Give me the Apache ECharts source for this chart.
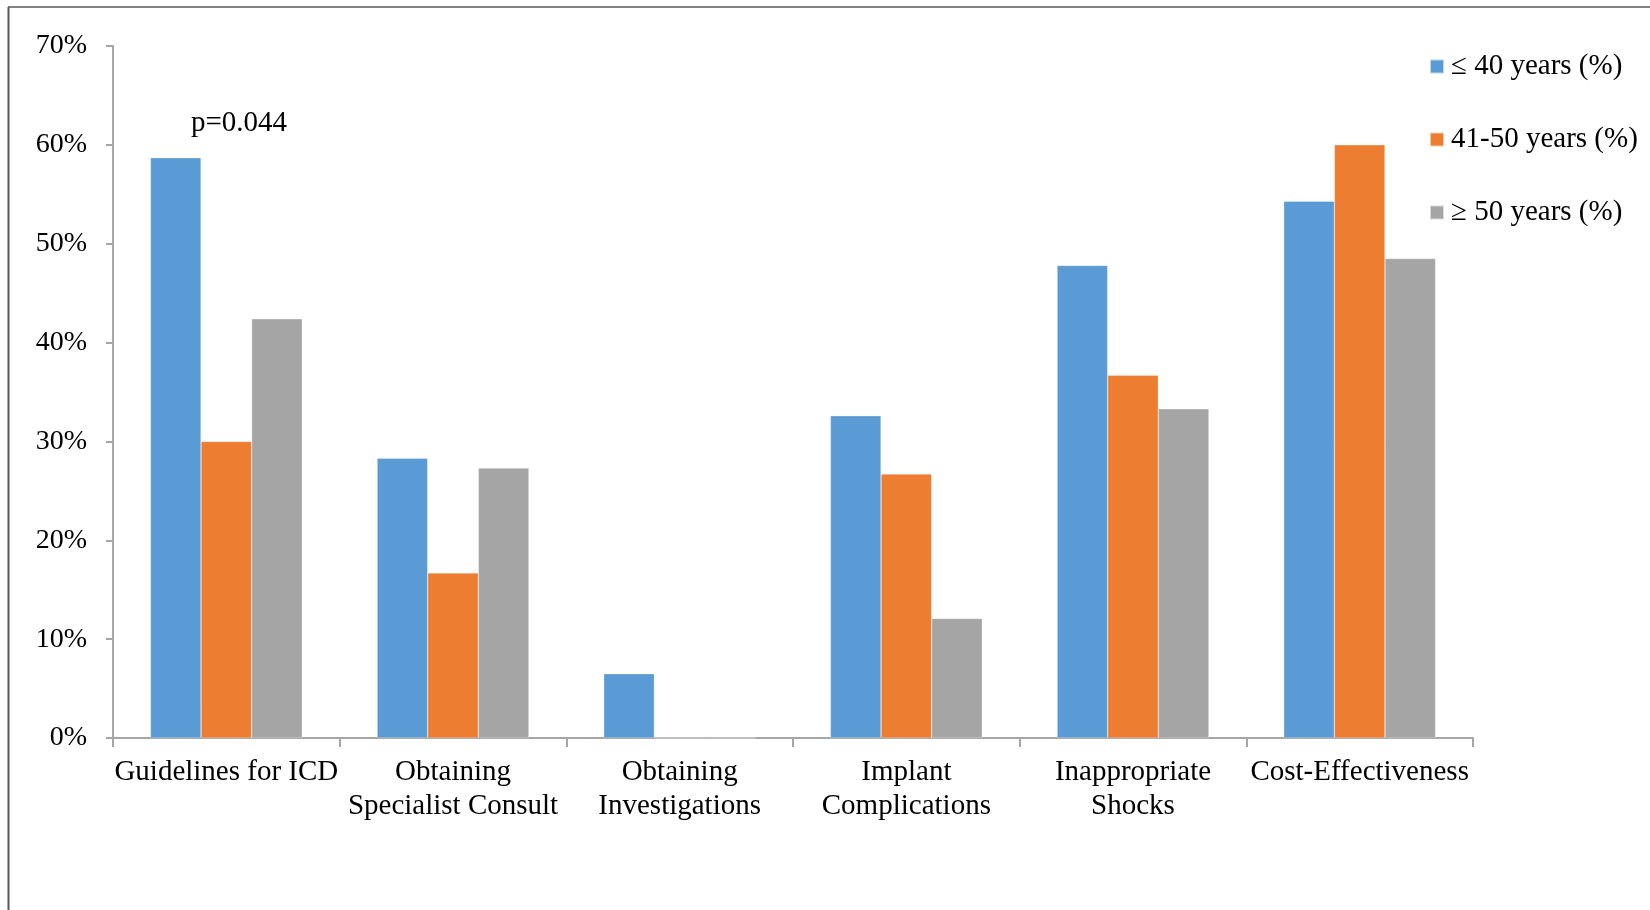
<!DOCTYPE html>
<html>
<head>
<meta charset="utf-8">
<title>ICD survey responses by age group</title>
<script src="https://cdn.jsdelivr.net/npm/echarts@6/dist/echarts.min.js"></script>
<style>
  html, body { margin: 0; padding: 0; background: #fff; }
  #chart { width: 1650px; height: 910px; }
</style>
</head>
<body>
<div id="chart"></div>
<script>
// Survey topics (x-axis categories)
const categories = [
  'Guidelines for ICD',
  'Obtaining\nSpecialist Consult',
  'Obtaining\nInvestigations',
  'Implant\nComplications',
  'Inappropriate\nShocks',
  'Cost-Effectiveness'
];

// Percentage of respondents per age group
const age40OrLess = [58.7, 28.3, 6.5, 32.6, 47.8, 54.3];
const age41to50   = [30.0, 16.7, 0.0, 26.7, 36.7, 60.0];
const age50OrMore = [42.4, 27.3, 0.0, 12.1, 33.3, 48.5];

const seriesNames = ['\u2264 40 years (%)', '41-50 years (%)', '\u2265 50 years (%)'];
const seriesColors = ['#5B9BD5', '#ED7D31', '#A5A5A5'];

// Y-axis ticks: 0% .. 70% in steps of 10
const yMin = 0, yMax = 70, yStep = 10;

const annotationText = 'p=0.044';

const FONT = '"Liberation Serif", "Times New Roman", serif';
const TEXT_COLOR = '#000';
const AXIS_COLOR = '#a6a6a6';

const chart = echarts.init(document.getElementById('chart'), null, { renderer: 'canvas' });

const dataSets = [age40OrLess, age41to50, age50OrMore];

const option = {
  backgroundColor: '#ffffff',
  animation: false,
  textStyle: { fontFamily: FONT, color: TEXT_COLOR },
  grid: { left: 113, right: 177, top: 46, bottom: 172, containLabel: false },
  legend: {
    orient: 'vertical',
    left: 1424,
    top: 47,
    itemWidth: 14,
    itemHeight: 14,
    itemGap: 44,
    icon: 'rect',
    textStyle: { fontFamily: FONT, fontSize: 29, color: TEXT_COLOR, padding: [0, 0, 0, 2] },
    data: seriesNames
  },
  xAxis: {
    type: 'category',
    data: categories,
    axisLine: { lineStyle: { color: AXIS_COLOR, width: 2 } },
    axisTick: { show: true, length: 9, lineStyle: { color: AXIS_COLOR, width: 2 } },
    axisLabel: {
      interval: 0,
      margin: 17,
      fontFamily: FONT,
      fontSize: 29,
      lineHeight: 34,
      color: TEXT_COLOR
    }
  },
  yAxis: {
    type: 'value',
    min: yMin,
    max: yMax,
    interval: yStep,
    splitLine: { show: false },
    axisLine: { show: true, lineStyle: { color: AXIS_COLOR, width: 2 } },
    axisTick: { show: true, length: 7, lineStyle: { color: AXIS_COLOR, width: 2 } },
    axisLabel: {
      formatter: '{value}%',
      margin: 26,
      fontFamily: FONT,
      fontSize: 28,
      color: TEXT_COLOR
    }
  },
  series: seriesNames.map((name, i) => ({
    name: name,
    type: 'bar',
    data: dataSets[i],
    barGap: '0%',
    barCategoryGap: '33%',
    itemStyle: { color: seriesColors[i], borderColor: 'rgba(255,255,255,0.6)', borderWidth: 0.5 }
  })),
  graphic: [
    // outer frame: left and top edges
    { type: 'line', shape: { x1: 8.5, y1: 7, x2: 8.5, y2: 910 }, style: { stroke: '#595959', lineWidth: 2 } },
    { type: 'line', shape: { x1: 8, y1: 7, x2: 1650, y2: 7 }, style: { stroke: '#595959', lineWidth: 1.5 } },
    {
      type: 'text',
      left: 191,
      top: 109,
      style: { text: annotationText, font: '29px ' + FONT, fill: TEXT_COLOR }
    }
  ]
};

chart.setOption(option);
</script>
</body>
</html>
